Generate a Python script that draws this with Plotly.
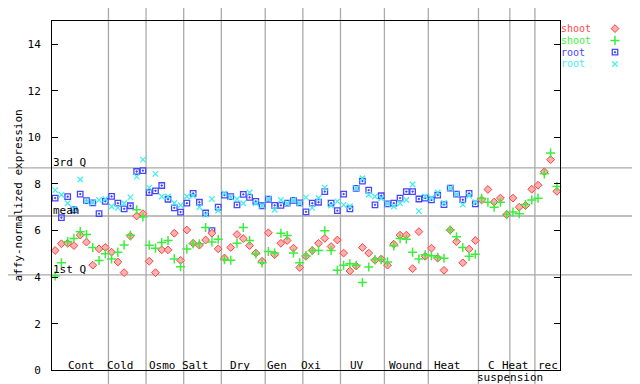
import plotly.graph_objects as go

# ---------------- data ----------------
categories = ["Cont", "Cold", "Osmo", "Salt", "Dry", "Gen", "Oxi", "UV",
              "Wound", "Heat", "C", "Heat", "rec"]
category_sizes = [9, 6, 6, 6, 7, 6, 6, 7, 7, 8, 5, 4, 4]
sublabel = "suspension"

shoot_rep1 = [5.14, 5.43, 5.45, 5.35, 5.80, 5.50, 4.51, 5.21, 5.27,
              5.07, 4.65, 4.19, 5.76, 6.62, 6.72,
              4.68, 4.19, 5.17, 5.17, 5.88, 4.72,
              6.02, 5.45, 5.37, 5.59, 5.88, 5.21,
              4.82, 5.27, 5.83, 5.65, 5.35, 5.03, 4.68,
              5.90, 4.96, 5.45, 5.57, 5.24, 4.41,
              4.89, 5.14, 5.45, 5.66, 5.31, 5.59,
              5.03, 4.26, 4.47, 5.27, 5.03, 4.72, 4.78,
              4.51, 5.41, 5.80, 5.80, 4.36, 5.95, 4.89,
              5.24, 4.81, 4.29, 6.02, 5.52, 4.61, 5.20, 5.57,
              7.31, 7.76, 7.22, 7.39, 6.68,
              7.39, 7.00, 7.07, 7.77,
              7.94, 8.52, 9.04, 7.68]

shoot_rep2 = [4.05, 4.61, 5.52, 5.66, 5.95, 5.83, 5.27, 4.71, 5.00,
              4.78, 5.07, 5.38, 5.79, 6.89, 6.58,
              5.37, 5.24, 5.48, 5.57, 4.78, 4.44,
              5.20, 5.43, 5.43, 6.13, 5.51, 5.62,
              4.75, 4.72, 5.45, 6.13, 5.57, 4.99, 4.61,
              5.10, 5.03, 5.88, 5.78, 5.03, 4.61,
              4.92, 5.14, 5.14, 5.99, 5.14, 4.29,
              4.51, 4.57, 4.51, 3.77, 4.43, 4.75, 4.75,
              4.65, 5.34, 5.65, 5.62, 5.07, 4.78, 4.96,
              4.92, 4.85, 4.81, 6.02, 5.73, 5.27, 4.89, 4.98,
              7.38, 7.21, 7.00, 7.21, 6.68,
              6.79, 6.72, 7.11, 7.31,
              7.38, 8.43, 9.32, 7.89]

root_rep1 = [7.39, 6.55, 7.45, 6.89, 7.56, 7.28, 7.18, 6.72, 7.25,
             7.46, 7.17, 6.93, 7.06, 8.53, 8.57,
             7.63, 7.70, 7.93, 7.34, 6.97, 6.79,
             7.17, 7.59, 7.21, 6.75, 5.99, 7.00,
             7.52, 7.45, 7.10, 7.55, 7.42, 7.25, 7.06,
             7.34, 7.08, 7.08, 7.17, 7.29, 7.18,
             6.80, 7.17, 7.21, 7.67, 7.17, 6.85,
             7.56, 6.93, 7.81, 8.12, 7.73, 7.10, 7.49,
             7.14, 7.17, 7.39, 7.67, 7.67, 7.35, 7.39,
             7.31, 7.52, 7.11, 7.82, 7.56, 7.32, 7.59, 7.14]

root_rep2 = [7.73, 7.53, 7.17, 6.92, 8.19, 7.25, 7.20, 7.31, 7.35,
             7.03, 6.97, 7.17, 7.42, 8.31, 9.04,
             7.84, 8.43, 7.46, 7.46, 7.18, 7.08,
             7.46, 7.49, 7.00, 6.68, 7.35, 6.86,
             7.59, 7.42, 7.35, 7.17, 7.63, 7.17, 7.06,
             7.35, 6.89, 7.31, 7.17, 7.31, 7.17,
             7.42, 6.97, 7.39, 7.84, 7.07, 7.25,
             7.10, 7.04, 7.81, 8.24, 7.53, 7.46, 7.38,
             7.14, 7.03, 7.17, 7.31, 7.97, 6.83, 7.46,
             7.38, 7.63, 7.18, 7.82, 7.56, 7.11, 7.49, 7.21]

stat_names = ["3rd Q", "mean", "1st Q"]
stat_values = [8.69, 6.62, 4.09]

series_names = ["shoot", "shoot", "root", "root"]
y_ticks = [0, 2, 4, 6, 8, 10, 12, 14]

# ---------------- layout helpers ----------------
W, H = 640, 384
PL, PR, PT, PB = 44, 552, 13, 369
FONT = "DejaVu Sans Mono"
GRAY = "#aaaaaa"
COLORS = ["#ff4848", "#3cee3c", "#4646ff", "#44eeee"]

n = sum(category_sizes)
bounds = [0]
for s in category_sizes:
    bounds.append(bounds[-1] + s)

def xs(k):
    return [i + 0.5 for i in range(k)]

fig = go.Figure()

marker_styles = [
    dict(symbol="diamond", size=6, color="#ffb0b0", line=dict(color="#ff4040", width=1)),
    dict(symbol="cross-thin-open", size=6.5, color=COLORS[1], line=dict(color=COLORS[1], width=1.5)),
    dict(symbol="square-open-dot", size=5.5, color=COLORS[2], line=dict(color=COLORS[2], width=1.3)),
    dict(symbol="x-thin-open", size=5.5, color=COLORS[3], line=dict(color=COLORS[3], width=1.3)),
]

series = [shoot_rep1, shoot_rep2, root_rep1, root_rep2]
draw_order = [2, 3, 0, 1]
for k in draw_order:
    vals = series[k]
    fig.add_trace(go.Scatter(x=xs(len(vals)), y=vals, mode="markers",
                             marker=marker_styles[k], showlegend=False,
                             name=series_names[k], cliponaxis=False))

# legend drawn in a pixel-space overlay axis
leg_rows_y = [21, 33, 45, 57]
for k in range(4):
    fig.add_trace(go.Scatter(x=[607], y=[leg_rows_y[k]], mode="markers",
                             marker=marker_styles[k], xaxis="x2", yaxis="y2",
                             showlegend=False, hoverinfo="skip"))

shapes = []
for b in bounds[1:-1]:
    shapes.append(dict(type="line", xref="x", yref="paper", x0=b, x1=b,
                       y0=0, y1=1, line=dict(color=GRAY, width=1.3), layer="below"))
for v in stat_values:
    shapes.append(dict(type="line", xref="paper", yref="y", x0=0, x1=1,
                       y0=v, y1=v, line=dict(color=GRAY, width=1.3), layer="below"))

annotations = []
for name, v in zip(stat_names, stat_values):
    annotations.append(dict(x=0, y=v, xref="x", yref="y", text=name,
                            showarrow=False, xanchor="left", yanchor="bottom",
                            xshift=-1, yshift=-3,
                            font=dict(family=FONT, size=11, color="black")))

label_centers = [4.78, 10.92, 17.54, 22.88, 30.05, 35.87, 41.29, 48.63,
                 56.44, 63.14, 70.15, 73.97, 79.08]
for lab, cx in zip(categories, label_centers):
    annotations.append(dict(x=cx, y=364, xref="x", yref="y2", text=lab,
                            showarrow=False, xanchor="center", yanchor="middle",
                            font=dict(family=FONT, size=11, color="black")))
annotations.append(dict(x=73.0, y=376.5, xref="x", yref="y2", text=sublabel,
                        showarrow=False, xanchor="center", yanchor="middle",
                        font=dict(family=FONT, size=11, color="black")))

for k in range(4):
    annotations.append(dict(x=552, y=leg_rows_y[k], xref="x2", yref="y2",
                            text=series_names[k], showarrow=False,
                            xanchor="left", yanchor="middle", borderpad=0,
                            font=dict(family=FONT, size=10, color=COLORS[k])))

annotations.append(dict(x=11, y=191, xref="x2", yref="y2",
                        text="affy-normalized expression", textangle=-90,
                        showarrow=False, xanchor="center", yanchor="middle",
                        font=dict(family=FONT, size=11, color="black")))

fig.update_layout(
    width=W, height=H,
    margin=dict(l=0, r=0, t=0, b=0),
    paper_bgcolor="white", plot_bgcolor="rgba(0,0,0,0)",
    showlegend=False,
    shapes=shapes, annotations=annotations,
    xaxis=dict(domain=[PL / W, PR / W], range=[0, n], showgrid=False,
               zeroline=False, showticklabels=False, ticks="",
               showline=True, linecolor="black", linewidth=1, mirror=True),
    yaxis=dict(domain=[(H - PB) / H, (H - PT) / H], range=[0, 15],
               showgrid=False, zeroline=False, tickvals=y_ticks,
               ticks="inside", ticklen=6, tickcolor="black",
               showline=True, linecolor="black", linewidth=1, mirror="ticks",
               ticklabelstandoff=8,
               tickfont=dict(family=FONT, size=11, color="black")),
    xaxis2=dict(domain=[0, 1], range=[0, W], anchor="y2", visible=False,
                fixedrange=True),
    yaxis2=dict(domain=[0, 1], range=[H, 0], anchor="x2", visible=False,
                fixedrange=True),
)

fig.write_html("out.html")
